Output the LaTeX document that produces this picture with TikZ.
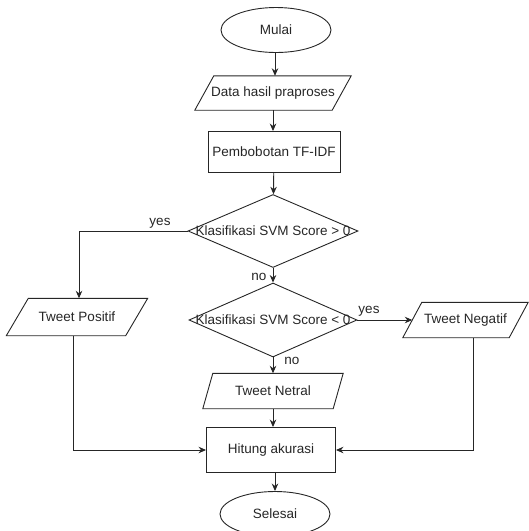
\documentclass[tikz,border=0pt]{standalone}
\usepackage{fontspec}
\setmainfont{Liberation Sans}
\usetikzlibrary{shapes.geometric,arrows.meta}
\newcommand\drawpara[2]{%
  \draw[base] ([xshift=-#2pt]#1.south west) -- ([xshift=#2pt]#1.north west)
    -- ([xshift=#2pt]#1.north east) -- ([xshift=-#2pt]#1.south east) -- cycle;}
\begin{document}
\begin{tikzpicture}[x=1pt,y=-1pt,
  every node/.style={font=\fontsize{13.5}{15}\selectfont, text=black!85},
  base/.style={draw=black!85, line width=0.9pt, inner sep=0pt},
  term/.style={base, ellipse, minimum width=110pt, minimum height=45pt},
  proc/.style={base, rectangle, minimum width=130pt, minimum height=43pt},
  io/.style={rectangle, inner sep=0pt},
  dec/.style={base, diamond, minimum width=170pt, minimum height=73pt},
  conn/.style={draw=black!85, line width=0.9pt, -{Stealth[length=7.5pt,width=6.5pt]}},
  lbl/.style={inner sep=1pt}
]
\useasboundingbox (0,0) rectangle (529,531);

\node[term] (mulai) at (276,30) {Mulai};
\node[io, minimum width=137pt, minimum height=34pt] (data) at (273,93) {Data hasil praproses};
\drawpara{data}{9.5}
\node[proc, minimum width=132pt, minimum height=41pt] (tfidf) at (274,152) {Pembobotan TF-IDF};
\node[dec] (d1) at (273,231) {};
\node (t1) at (d1.center) {Klasifikasi SVM Score > 0};
\node[dec, minimum width=168pt, minimum height=74pt] (d2) at (273,320) {};
\node (t2) at (d2.center) {Klasifikasi SVM Score < 0};
\node[io, minimum width=119pt, minimum height=37pt] (pos) at (77,317) {Tweet Positif};
\drawpara{pos}{11}
\node[io, minimum width=106pt, minimum height=35pt] (neg) at (465.5,320) {Tweet Negatif};
\drawpara{neg}{9.5}
\node[io, minimum width=130pt, minimum height=35pt] (net) at (273,391) {Tweet Netral};
\drawpara{net}{5}
\node[proc, minimum width=129pt, minimum height=45pt] (hit) at (271,450) {Hitung akurasi};
\node[term] (sel) at (275,514) {Selesai};

\coordinate (yescorner) at (79,231);

\draw[conn] ([xshift=-1pt]mulai.south) -- ([xshift=-1pt]mulai.south |- data.north);
\draw[conn] (data.south) -- (data.south |- tfidf.north);
\draw[conn] (tfidf) -- (d1);
\draw[conn] (d1.west) -- (yescorner) -- (yescorner |- pos.north);
\node[lbl] (yes1) at (160,223) {yes};
\draw[conn] (d1.south) -- (d2.north);
\node[lbl] (no1) at (259,277) {no};
\draw[conn] (d2.east) -- (neg.west);
\node[lbl] (yes2) at (369,311) {yes};
\draw[conn] (d2.south) -- (net.north);
\node[lbl] (no2) at (292,361) {no};
\draw[conn] (net.south) -- (net.south |- hit.north);
\draw[conn] ([xshift=-4pt]pos.south) |- (hit.west);
\draw[conn] ([xshift=8pt]neg.south) |- (hit.east);
\draw[conn] (sel.north |- hit.south) -- (sel.north);
\end{tikzpicture}
\end{document}
